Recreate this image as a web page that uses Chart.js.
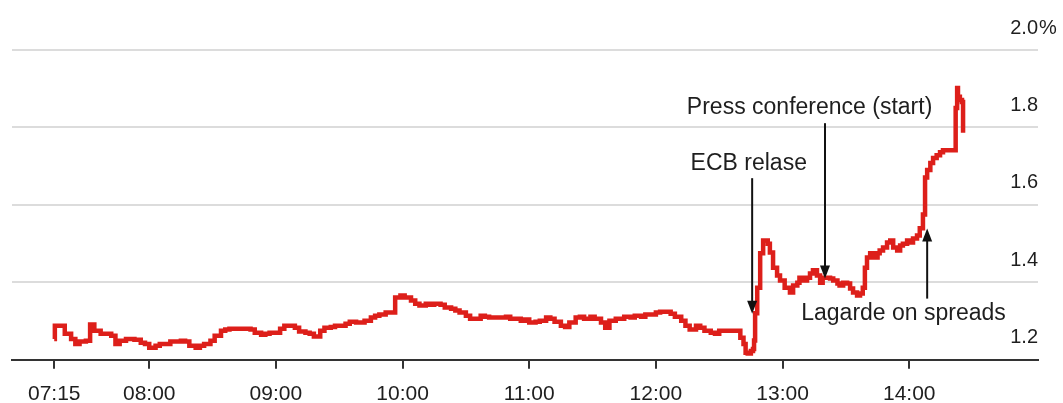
<html>
<head>
    <style>
        body { margin: 0; background: #fff; }
        #wrap { position: relative; width: 1063px; height: 403px; }
    </style>
</head>
<body>
    <div id="wrap"><canvas id="yieldChart"></canvas></div>
    <script src="https://cdn.jsdelivr.net/npm/chart.js@4.4.1/dist/chart.umd.min.js"></script>
    <script>
        // minutes after 07:00, and the yield in %
        var times = [
            15, 15.3, 18, 20, 23, 25, 27, 30, 32, 34,
            37, 39, 42, 44, 46, 49, 51, 53, 56, 58,
            60, 63, 65, 68, 70, 72, 75, 77, 79, 82,
            84, 86, 89, 91, 94, 96, 98, 103, 108, 110,
            113, 115, 117, 122, 124, 127, 129, 131, 134, 136,
            138, 141, 143, 146, 148, 150, 153, 155, 158, 160,
            162, 165, 167, 169, 172, 174, 176.5, 179, 181, 184,
            186, 188, 191, 193, 195, 198, 200, 203, 205, 207,
            210, 212, 214, 217, 219, 221, 224, 226, 229, 231,
            233, 236, 238, 240, 243, 245, 248, 250, 252, 255,
            257, 259, 262, 264, 266, 269, 271, 274, 276, 278,
            281, 283, 285, 288, 290, 293, 295, 297, 300, 302,
            304, 307, 309, 312, 314, 316, 319, 321, 323, 326,
            328, 330, 335, 338, 340, 341.5, 342.5, 343.5, 345, 346,
            346.5, 347, 348, 349.4, 350.8, 351.7, 353, 354, 355.5, 357.4,
            358.8, 361, 363.5, 365, 367, 368, 370, 371.6, 373, 374.4,
            376.3, 377.8, 379, 381, 382.5, 384, 386, 387, 388.7, 390.6,
            392, 393.4, 395.3, 396.7, 398, 399, 400, 401.5, 403, 405,
            406, 407.6, 409.5, 411, 412.4, 414.3, 415.7, 417, 419, 420.4,
            421.8, 423.7, 425, 426.5, 427.5, 428.5, 430, 431.3, 433, 434.6,
            436, 441.5, 442, 442.7, 443.1, 444, 445, 445.5
        ];
        var yields = [
            1.254, 1.288, 1.288, 1.267, 1.254, 1.241, 1.247, 1.249, 1.291, 1.275,
            1.267, 1.267, 1.262, 1.241, 1.249, 1.254, 1.254, 1.252, 1.244, 1.241,
            1.231, 1.236, 1.241, 1.241, 1.247, 1.247, 1.249, 1.247, 1.236, 1.231,
            1.236, 1.241, 1.249, 1.262, 1.275, 1.278, 1.280, 1.280, 1.278, 1.270,
            1.265, 1.267, 1.270, 1.280, 1.288, 1.288, 1.283, 1.273, 1.270, 1.267,
            1.260, 1.275, 1.283, 1.285, 1.288, 1.288, 1.293, 1.298, 1.296, 1.296,
            1.301, 1.309, 1.314, 1.317, 1.322, 1.322, 1.361, 1.366, 1.361, 1.353,
            1.345, 1.340, 1.345, 1.342, 1.345, 1.342, 1.335, 1.332, 1.327, 1.322,
            1.314, 1.306, 1.306, 1.314, 1.311, 1.309, 1.309, 1.309, 1.311, 1.306,
            1.306, 1.301, 1.304, 1.296, 1.298, 1.301, 1.309, 1.306, 1.298, 1.288,
            1.285, 1.296, 1.309, 1.311, 1.306, 1.311, 1.306, 1.296, 1.283, 1.301,
            1.306, 1.306, 1.311, 1.309, 1.314, 1.311, 1.317, 1.317, 1.322, 1.324,
            1.324, 1.319, 1.311, 1.301, 1.288, 1.278, 1.288, 1.283, 1.275, 1.270,
            1.267, 1.275, 1.275, 1.275, 1.257, 1.241, 1.218, 1.216, 1.223, 1.228,
            1.250, 1.320, 1.386, 1.475, 1.508, 1.508, 1.500, 1.477, 1.438, 1.418,
            1.405, 1.386, 1.374, 1.392, 1.399, 1.412, 1.405, 1.412, 1.423, 1.431,
            1.418, 1.399, 1.412, 1.412, 1.410, 1.405, 1.397, 1.392, 1.399, 1.397,
            1.384, 1.374, 1.366, 1.371, 1.386, 1.438, 1.464, 1.475, 1.464, 1.475,
            1.482, 1.490, 1.503, 1.508, 1.490, 1.482, 1.495, 1.500, 1.508, 1.503,
            1.513, 1.521, 1.540, 1.575, 1.671, 1.690, 1.708, 1.721, 1.728, 1.736,
            1.741, 1.741, 1.850, 1.902, 1.879, 1.871, 1.866, 1.786
        ];

        var xTicks = [15, 60, 120, 180, 240, 300, 360, 420];
        var yTicks = [1.2, 1.4, 1.6, 1.8, 2.0];

        // notes: text anchor (time, value), arrow at time from one value to another
        var noteLabels = ['ECB relase', 'Press conference (start)', 'Lagarde on spreads'];
        var noteTextTimes = [344, 372.8, 417.3];
        var noteTextValues = [1.707, 1.852, 1.319];
        var noteArrowTimes = [345.6, 380.1, 428.5];
        var noteArrowFrom = [1.669, 1.811, 1.358];
        var noteArrowTo = [1.319, 1.410, 1.539];

        var FONT = '"Liberation Sans", Arial, sans-serif';
        var INK = '#1e1e1e';

        function hhmm(m) {
            var h = 7 + Math.floor(m / 60);
            var mm = m % 60;
            return (h < 10 ? '0' : '') + h + ':' + (mm < 10 ? '0' : '') + mm;
        }

        var points = times.map(function (t, i) { return {x: t, y: yields[i]}; });

        var yLabels = {
            id: 'yLabels',
            afterDraw: function (chart) {
                var ctx = chart.ctx, y = chart.scales.y, area = chart.chartArea;
                ctx.save();
                ctx.font = '20px ' + FONT;
                ctx.fillStyle = INK;
                ctx.textBaseline = 'middle';
                yTicks.forEach(function (v) {
                    var py = y.getPixelForValue(v) - 22;
                    ctx.textAlign = 'right';
                    ctx.fillText(v.toFixed(1), area.right, py);
                    if (v === 2.0) {
                        ctx.textAlign = 'left';
                        ctx.fillText('%', area.right + 1, py);
                    }
                });
                ctx.restore();
            }
        };

        var notes = {
            id: 'notes',
            afterDatasetsDraw: function (chart) {
                var ctx = chart.ctx, x = chart.scales.x, y = chart.scales.y;
                ctx.save();
                ctx.font = '23px ' + FONT;
                ctx.strokeStyle = '#111';
                ctx.lineWidth = 2;
                ctx.textAlign = 'center';
                ctx.textBaseline = 'middle';
                noteLabels.forEach(function (label, i) {
                    ctx.fillStyle = INK;
                    ctx.fillText(label, x.getPixelForValue(noteTextTimes[i]), y.getPixelForValue(noteTextValues[i]));
                    var ax = x.getPixelForValue(noteArrowTimes[i]);
                    var y0 = y.getPixelForValue(noteArrowFrom[i]);
                    var y1 = y.getPixelForValue(noteArrowTo[i]);
                    var dir = y1 > y0 ? 1 : -1;
                    ctx.beginPath();
                    ctx.moveTo(ax, y0);
                    ctx.lineTo(ax, y1 - dir * 10);
                    ctx.stroke();
                    ctx.fillStyle = '#111';
                    ctx.beginPath();
                    ctx.moveTo(ax, y1);
                    ctx.lineTo(ax - 5, y1 - dir * 13);
                    ctx.lineTo(ax + 5, y1 - dir * 13);
                    ctx.closePath();
                    ctx.fill();
                });
                ctx.restore();
            }
        };

        var ctx = document.getElementById('yieldChart').getContext('2d');
        var chart = new Chart(ctx, {
            type: 'line',
            data: {
                datasets: [{
                    label: 'Yield',
                    data: points,
                    borderColor: '#dd1f1a',
                    borderWidth: 4.5,
                    stepped: 'before',
                    pointRadius: 0,
                    fill: false
                }]
            },
            options: {
                responsive: true,
                maintainAspectRatio: false,
                animation: false,
                layout: {padding: {left: 12, right: 25, top: 50, bottom: -17}},
                plugins: {
                    legend: {display: false},
                    tooltip: {enabled: false}
                },
                scales: {
                    x: {
                        type: 'linear',
                        min: -5,
                        max: 481,
                        afterBuildTicks: function (scale) {
                            scale.ticks = xTicks.map(function (v) { return {value: v}; });
                        },
                        grid: {
                            drawOnChartArea: false,
                            drawTicks: true,
                            tickLength: 9,
                            color: '#333',
                            lineWidth: 2
                        },
                        border: {display: true, color: '#333', width: 2},
                        ticks: {
                            autoSkip: false,
                            maxRotation: 0,
                            padding: 13,
                            color: INK,
                            font: {family: FONT, size: 21},
                            callback: function (v) { return hhmm(v); }
                        }
                    },
                    y: {
                        position: 'right',
                        min: 1.2,
                        max: 2.0,
                        afterBuildTicks: function (scale) {
                            scale.ticks = yTicks.map(function (v) { return {value: v}; });
                        },
                        grid: {
                            drawTicks: false,
                            lineWidth: 2,
                            color: function (c) {
                                return Math.abs(c.tick.value - 1.2) < 1e-6 ? 'rgba(0,0,0,0)' : '#dcdcdc';
                            }
                        },
                        border: {display: false},
                        ticks: {display: false}
                    }
                }
            },
            plugins: [yLabels, notes]
        });
    </script>
</body>
</html>
